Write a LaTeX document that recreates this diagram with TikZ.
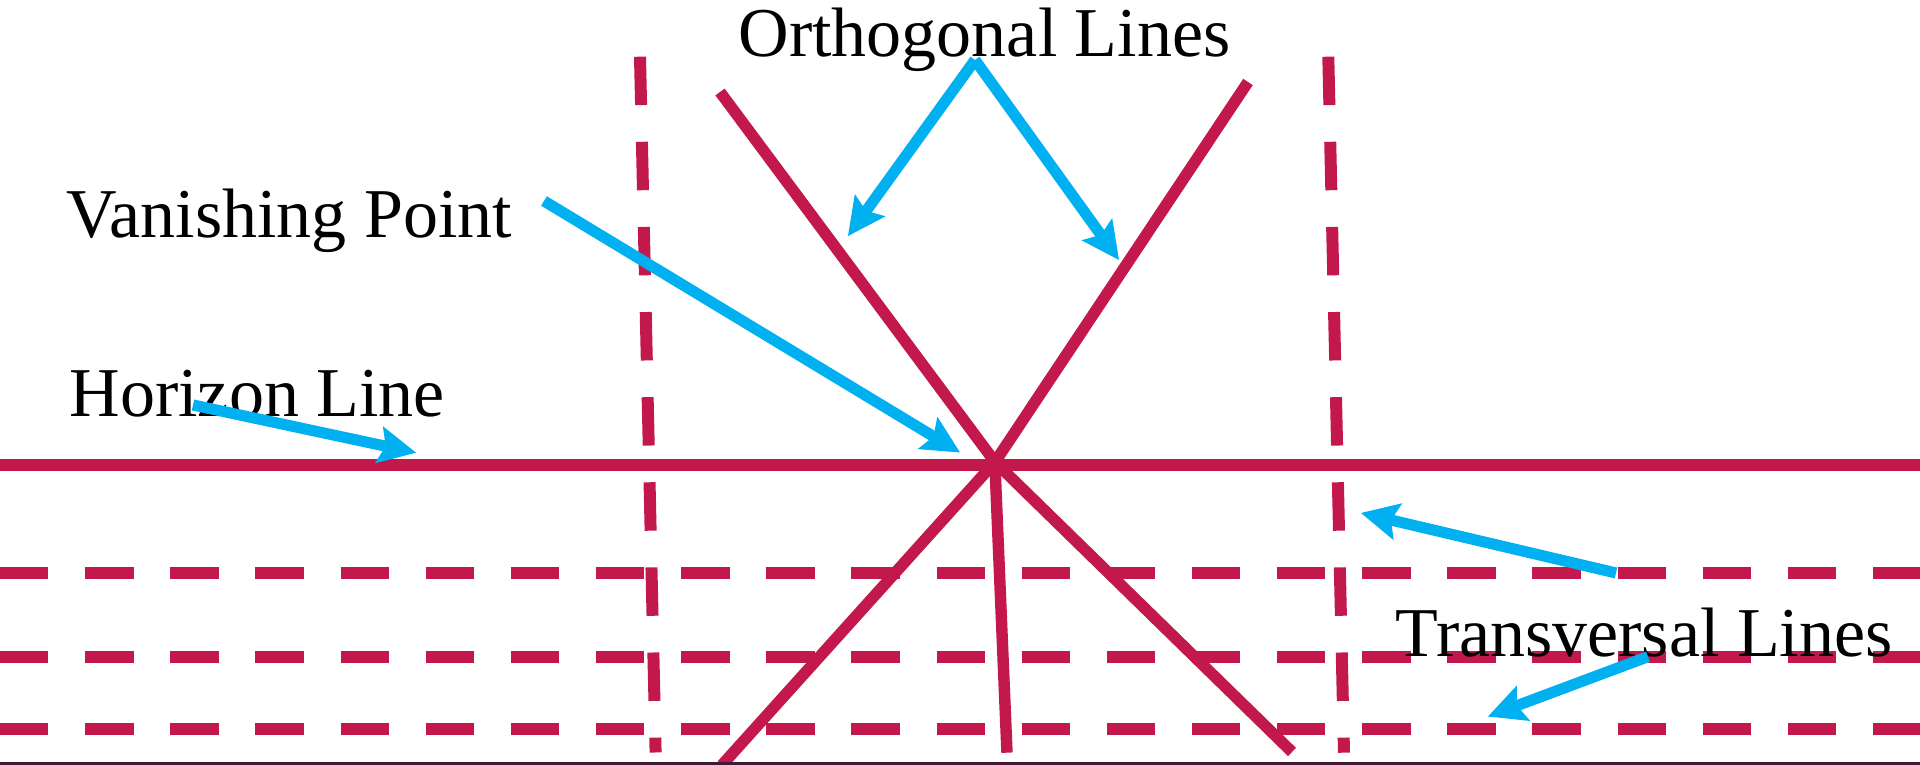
\documentclass[tikz,border=0pt]{standalone}
\usepackage{fontspec}
\setmainfont{Liberation Serif}
\usetikzlibrary{arrows.meta}
\definecolor{crim}{RGB}{194,24,76}
\definecolor{cyanb}{RGB}{0,176,240}
\definecolor{darkedge}{RGB}{65,25,55}
\newcommand{\labelfont}{\fontsize{19.9pt}{24pt}\selectfont}
\tikzset{
  solidline/.style={draw=crim, line width=3.25pt},
  horizonline/.style={draw=crim, line width=3.41pt},
  dashline/.style={draw=crim, line width=3.41pt, dash pattern=on 13.77pt off 10.44pt},
  callout/.style={draw=cyanb, line width=3.15pt, -{Stealth[length=10.8pt, width=10.8pt, inset=2pt, line width=0pt]}},
  lbl/.style={inner sep=0pt, anchor=base west, font=\labelfont, text=black}
}
\begin{document}
\begin{tikzpicture}[x=0.01cm, y=-0.01cm]
\useasboundingbox (0,0) rectangle (1920,765);
% coordinates
\coordinate (VP) at (995,462);
\coordinate (ULtop) at (720,92);
\coordinate (URtop) at (1248,82);
\coordinate (LLbot) at (722,765);
\coordinate (LMtop) at (995,466);
\coordinate (LMbot) at (1007,752.7);
\coordinate (LRbot) at (1292,752);
\coordinate (HL) at (0,465);
\coordinate (HR) at (1920,465);
\coordinate (T1a) at (0,573);
\coordinate (T1b) at (1920,573);
\coordinate (T2a) at (0,656.7);
\coordinate (T2b) at (1920,656.7);
\coordinate (T3a) at (0,728.7);
\coordinate (T3b) at (1920,728.7);
\coordinate (V1t) at (640,56.7);
\coordinate (V1b) at (655.6,752.5);
\coordinate (V2t) at (1328.3,56.7);
\coordinate (V2b) at (1344,752.7);
\coordinate (B1) at (0,763.5);
\coordinate (B2) at (1920,763.5);
% dashed lines
\draw[dashline] (V1t) -- (V1b);
\draw[dashline] (V2t) -- (V2b);
\draw[dashline] (T1a) -- (T1b);
\draw[dashline] (T2a) -- (T2b);
\draw[dashline] (T3a) -- (T3b);
% horizon
\draw[horizonline] (HL) -- (HR);
% orthogonals
\draw[solidline] (ULtop) -- (VP);
\draw[solidline] (URtop) -- (VP);
\draw[solidline] (VP) -- (LLbot);
\draw[solidline] (LMtop) -- (LMbot);
\draw[solidline] (VP) -- (LRbot);
% bottom edge
\draw[draw=darkedge, line width=0.85pt] (B1) -- (B2);
% labels
\node[lbl] (orth) at (738,57) {Orthogonal Lines};
\node[lbl] (van) at (66,237.3) {Vanishing Point};
\node[lbl] (hor) at (69,416.7) {Horizon Line};
\node[lbl] (trans) at (1395,656.7) {Transversal Lines};
% callout arrows
\coordinate (O0) at (975,60);
\coordinate (O1) at (848,236);
\coordinate (O2) at (1119,260);
\coordinate (VPs) at (544,201);
\coordinate (VPt) at (960,452.5);
\coordinate (Hs) at (193,405);
\coordinate (Ht) at (416,452.7);
\coordinate (Ts1) at (1616,573);
\coordinate (Tt1) at (1361,513);
\coordinate (Ts2) at (1648,656.7);
\coordinate (Tt2) at (1488,716.5);
\draw[callout] (O0) -- (O1);
\draw[callout] (O0) -- (O2);
\draw[callout] (VPs) -- (VPt);
\draw[callout] (Hs) -- (Ht);
\draw[callout] (Ts1) -- (Tt1);
\draw[callout] (Ts2) -- (Tt2);
\end{tikzpicture}
\end{document}
